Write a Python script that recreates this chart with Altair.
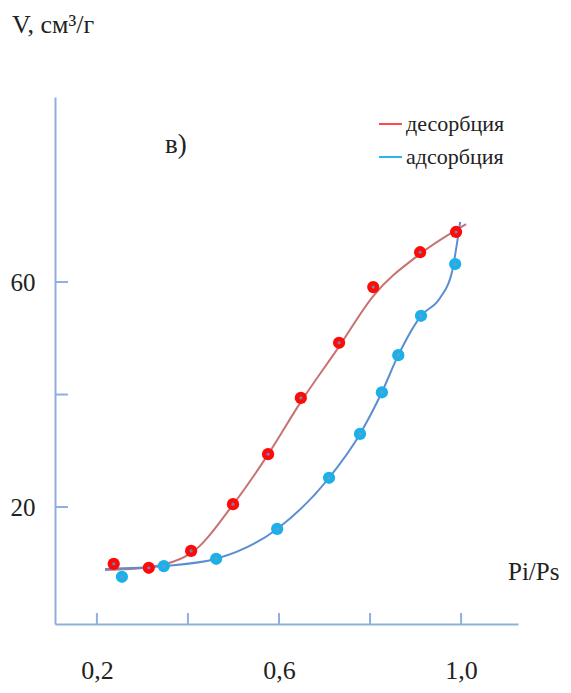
import altair as alt
import pandas as pd

# measured points (Pi/Ps, V)
des_x = [0.237, 0.314, 0.407, 0.499, 0.576, 0.648, 0.732, 0.807, 0.910, 0.989]
des_y = [9.9, 9.2, 12.2, 20.5, 29.4, 39.4, 49.2, 59.1, 65.3, 68.9]
ads_x = [0.255, 0.347, 0.462, 0.596, 0.710, 0.778, 0.826, 0.862, 0.912, 0.987]
ads_y = [7.6, 9.5, 10.8, 16.1, 25.2, 33.0, 40.4, 47.0, 54.0, 63.2]

# smoothed curve nodes
des_cx = [0.218, 0.314, 0.407, 0.497, 0.574, 0.648, 0.730, 0.807, 0.910, 1.011]
des_cy = [8.8, 9.3, 11.8, 20.2, 29.1, 38.7, 48.3, 57.5, 65.0, 70.3]
ads_cx = [0.218, 0.347, 0.462, 0.596, 0.710, 0.778, 0.826, 0.862, 0.912, 0.954, 0.980, 0.998]
ads_cy = [9.0, 9.5, 10.8, 16.1, 25.2, 33.0, 40.4, 47.0, 54.0, 57.2, 61.8, 70.7]

x_ticks = [0.2, 0.4, 0.6, 0.8, 1.0]
x_labels = [0.2, 0.6, 1.0]
y_ticks = [20, 40, 60]
y_labels = [20, 60]

series_names = ["десорбция", "адсорбция"]

W, H = 463, 527
FONT = "Liberation Serif"
AXC = "#8FAFDD"
XS = alt.Scale(domain=[0.108, 1.125], nice=False, zero=False)
YS = alt.Scale(domain=[-0.8, 92.9], nice=False, zero=False)
AX_X = alt.Axis(values=x_labels, ticks=False, grid=False, domainColor=AXC, domainWidth=2,
                labelFont=FONT, labelFontSize=26, labelColor="#222", labelPadding=33,
                labelExpr="replace(format(datum.value, '.1f'), '.', ',')", title=None)
AX_Y = alt.Axis(values=y_labels, ticks=False, grid=False, domainColor=AXC, domainWidth=2,
                labelFont=FONT, labelFontSize=25, labelColor="#222", labelPadding=20,
                labelBaseline="middle", title=None)

def X():
    return alt.X("x:Q", scale=XS, axis=AX_X)

def Y():
    return alt.Y("y:Q", scale=YS, axis=AX_Y)

des_pts = pd.DataFrame({"x": des_x, "y": des_y})
ads_pts = pd.DataFrame({"x": ads_x, "y": ads_y})
des_cur = pd.DataFrame({"x": des_cx, "y": des_cy})
ads_cur = pd.DataFrame({"x": ads_cx, "y": ads_cy})

xt = alt.Chart(pd.DataFrame({"x": x_ticks})).mark_rule(color=AXC, strokeWidth=2).encode(
    x=X(), y=alt.value(H), y2=alt.value(H - 11))
yt = alt.Chart(pd.DataFrame({"y": y_ticks})).mark_rule(color=AXC, strokeWidth=2).encode(
    y=Y(), x=alt.value(0), x2=alt.value(13))

def line(df, color):
    return alt.Chart(df).mark_line(interpolate="monotone", color=color, strokeWidth=2).encode(
        x=X(), y=Y())

def pts(df, color, size):
    return alt.Chart(df).mark_circle(color=color, opacity=1, size=size).encode(x=X(), y=Y())

def txt(s, x, y, size, align="left"):
    return alt.Chart(pd.DataFrame({"t": [s]})).mark_text(
        font=FONT, fontSize=size, color="#222", align=align, baseline="middle").encode(
        text="t:N", x=alt.value(x), y=alt.value(y))

def leg(color, y):
    return alt.Chart(pd.DataFrame({"a": [0]})).mark_rule(color=color, strokeWidth=2).encode(
        x=alt.value(324), x2=alt.value(347), y=alt.value(y))

OX, OY = 55, 97  # page position of plot origin
layers = [
    xt, yt,
    line(des_cur, "#C97272"), line(ads_cur, "#5B8ED0"),
    pts(des_pts, "#FF0A0A", 150), pts(ads_pts, "#1CB0E8", 150),
    pts(des_pts, "#6E86AE", 10), pts(ads_pts, "#6E9CC4", 10),
    txt("V, см³/г", 12 - OX, 25 - OY, 26),
    txt("в)", 165 - OX, 145 - OY, 27),
    txt("Pi/Ps", 508 - OX, 572 - OY, 25),
    leg("#FF4A4A", 124 - OY), leg("#2CB4EE", 157 - OY),
    txt(series_names[0], 406 - OX, 124 - OY, 22),
    txt(series_names[1], 406 - OX, 157 - OY, 22),
]

chart = alt.layer(*layers).properties(
    width=W, height=H,
    autosize=alt.AutoSizeParams(type="none"),
    padding={"left": OX - 8, "top": OY - 8, "right": 45, "bottom": 61},
).configure_view(stroke=None)

chart.save("out.html", embed_options={"renderer": "svg", "actions": False})
